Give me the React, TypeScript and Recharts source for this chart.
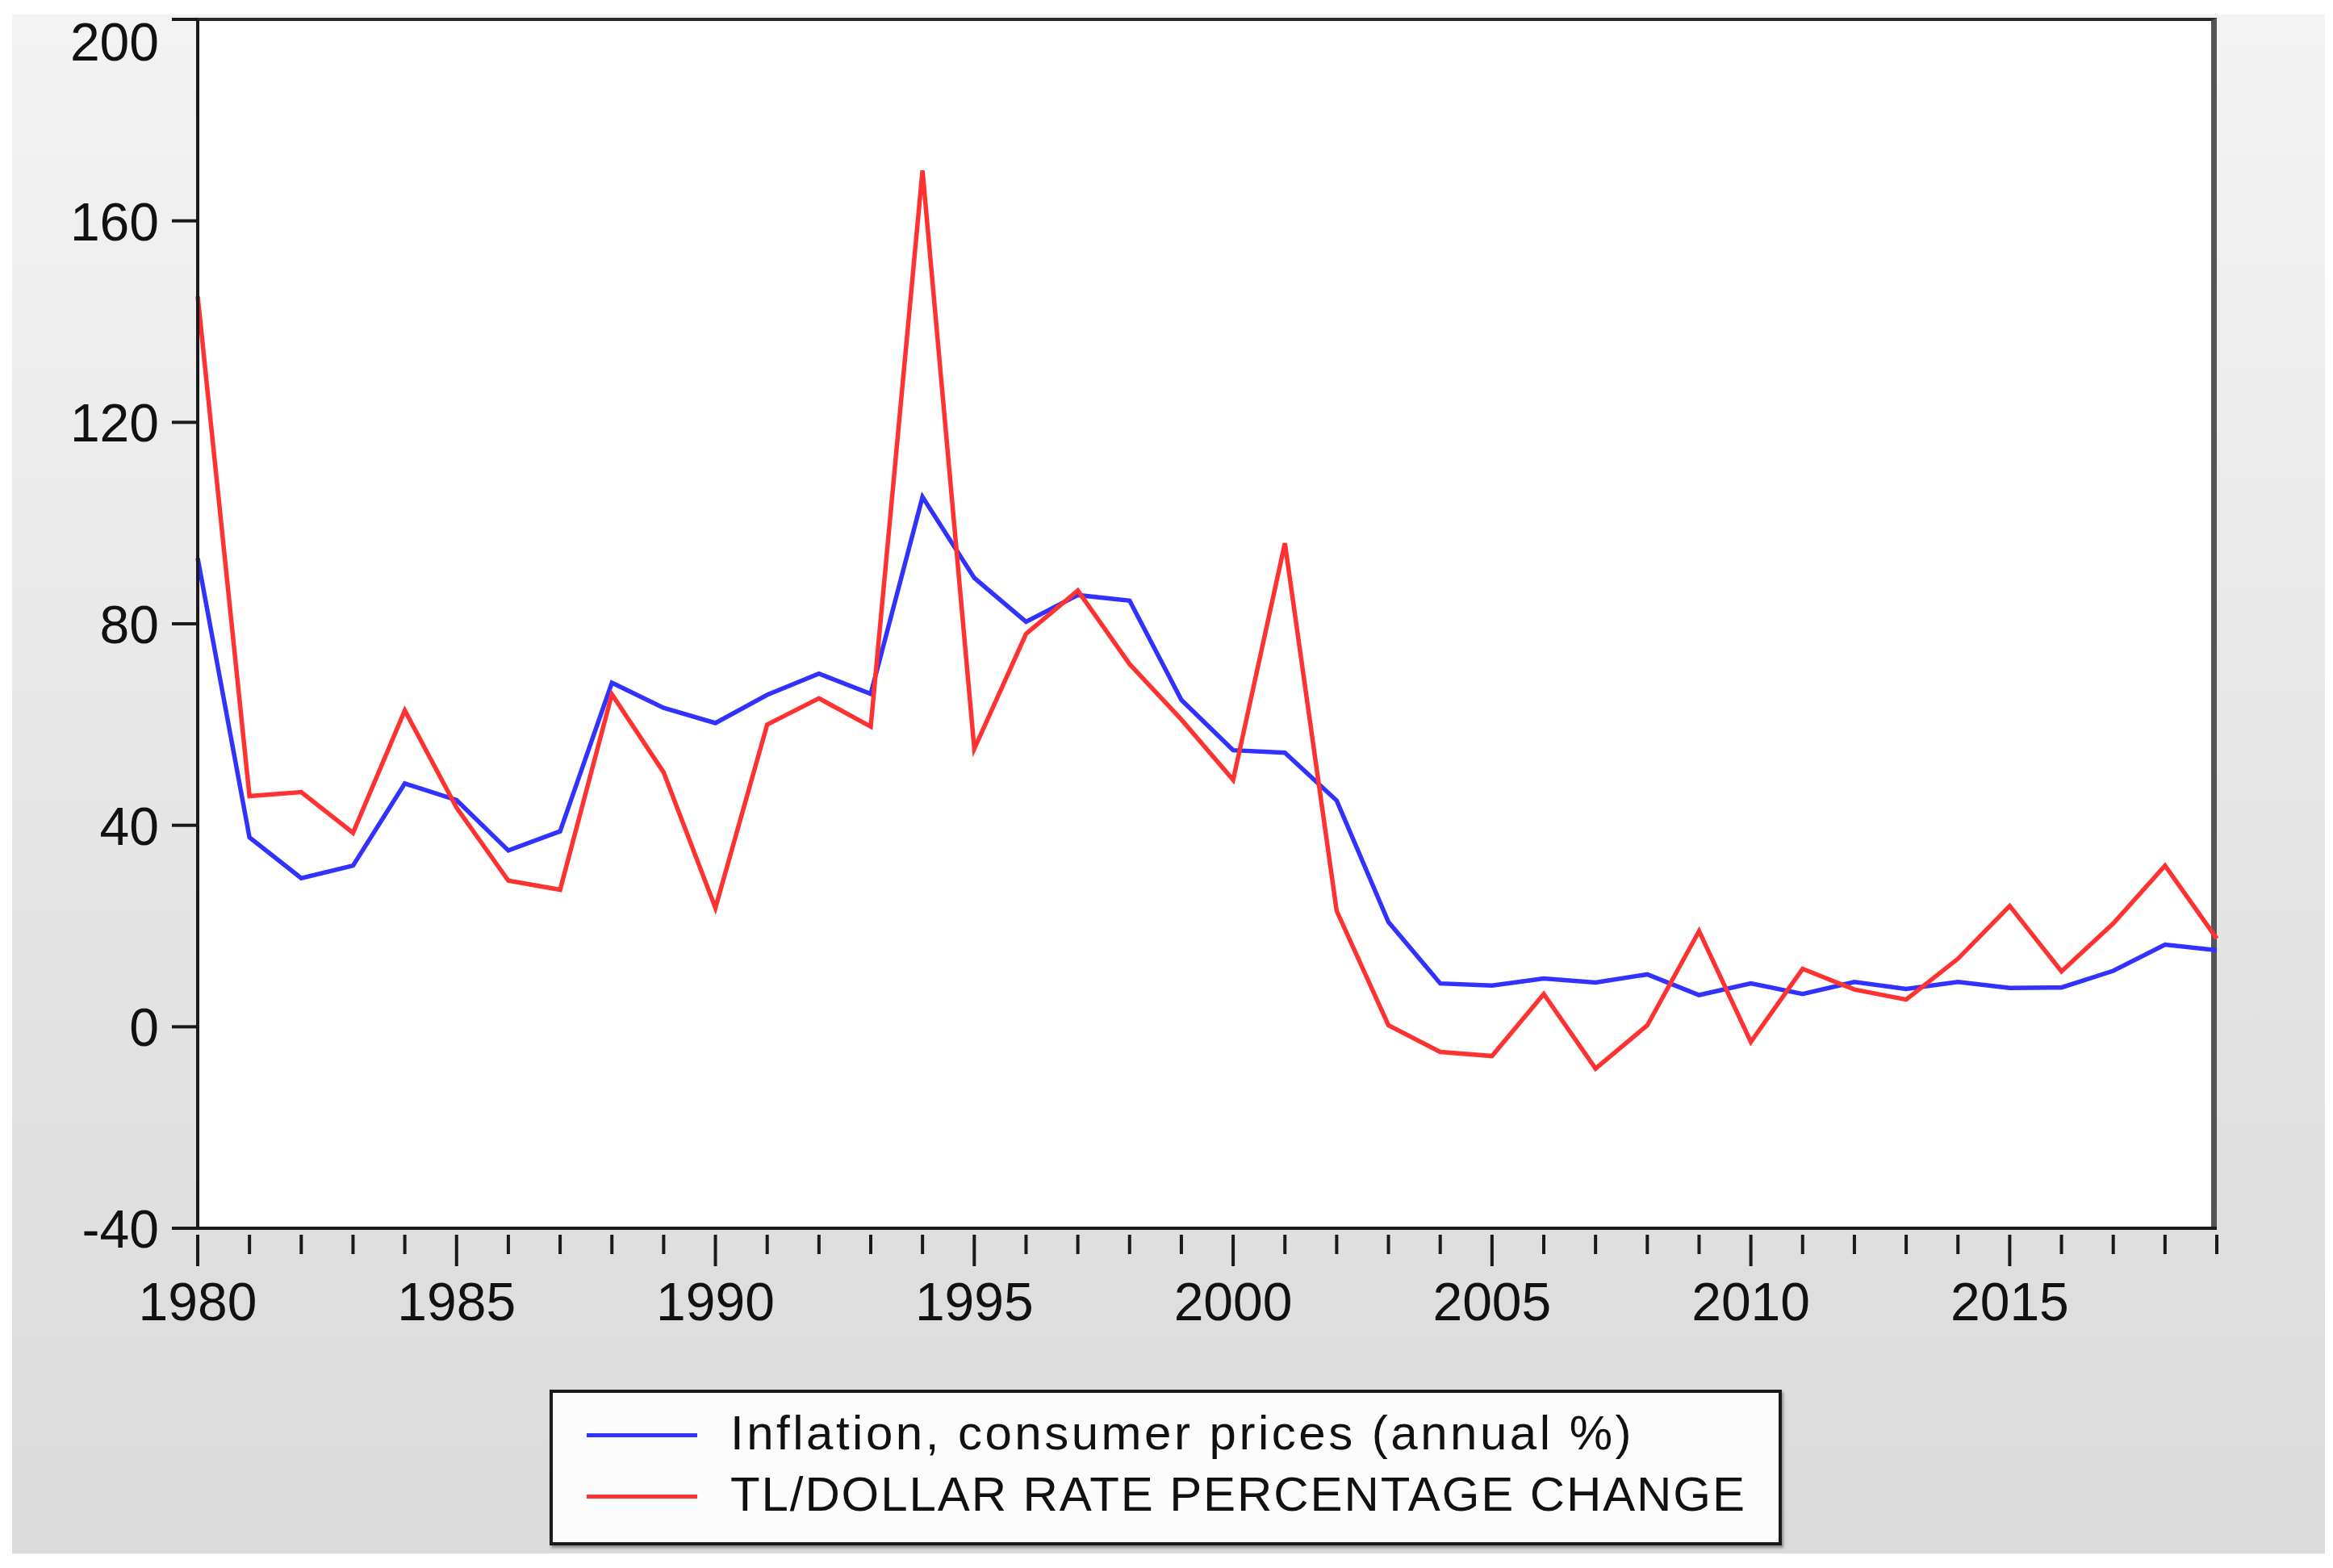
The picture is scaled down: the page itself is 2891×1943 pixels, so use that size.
import React from 'react';
import { LineChart, Line, XAxis, YAxis } from 'recharts';

const years = [
    1980, 1981, 1982, 1983, 1984, 1985, 1986, 1987, 1988, 1989,
    1990, 1991, 1992, 1993, 1994, 1995, 1996, 1997, 1998, 1999,
    2000, 2001, 2002, 2003, 2004, 2005, 2006, 2007, 2008, 2009,
    2010, 2011, 2012, 2013, 2014, 2015, 2016, 2017, 2018, 2019,
];

const inflation = [
    93, 37.6, 29.5, 32, 48.3, 45, 35, 38.8, 68.3, 63.3,
    60.3, 65.9, 70.1, 66.1, 105.2, 89.1, 80.4, 85.7, 84.6, 64.9,
    54.9, 54.4, 44.9, 20.8, 8.6, 8.2, 9.6, 8.8, 10.4, 6.3,
    8.6, 6.5, 8.9, 7.5, 8.9, 7.7, 7.8, 11.1, 16.3, 15.2,
];

const tlDollar = [
    145, 45.8, 46.6, 38.5, 62.8, 43.5, 29, 27.2, 66, 50.5,
    23.6, 60, 65.2, 59.6, 170, 55.2, 78, 86.6, 72, 61,
    49, 96, 23, 0.3, -5, -5.8, 6.5, -8.3, 0.3, 19,
    -3, 11.5, 7.4, 5.4, 13.5, 24, 11, 20.5, 32, 17.5,
];

const yTicks = [-40, 0, 40, 80, 120, 160, 200];

const series = [
    { key: 'inflation', name: 'Inflation, consumer prices (annual %)', color: '#3232ff' },
    { key: 'tlDollar', name: 'TL/DOLLAR RATE PERCENTAGE CHANGE', color: '#ff3232' },
];

const data = years.map((year, i) => ({
    year,
    inflation: inflation[i],
    tlDollar: tlDollar[i],
}));

const FONT = '"Liberation Sans", Arial, sans-serif';
const W = 2891;
const H = 1943;

// year ticks: long ones every 5 years with a label, short ones in between
function YearTick(props: any) {
    const { x, y, payload } = props;
    const major = payload.value % 5 === 0;
    return (
        <g>
            <line x1={x} y1={y} x2={x} y2={y + (major ? 39 : 24)} stroke="#1a1a1a" strokeWidth={4} />
            {major && (
                <text x={x} y={y + 106} textAnchor="middle" fontSize={66} fill="#111" fontFamily={FONT}>
                    {payload.value}
                </text>
            )}
        </g>
    );
}

// value ticks; the top label sits under its tick so it stays inside
function ValueTick(props: any) {
    const { x, y, payload } = props;
    const top = payload.value === yTicks[yTicks.length - 1];
    return (
        <text
            x={x}
            y={y + (top ? 51 : 24)}
            textAnchor="end"
            fontSize={66}
            fill="#111"
            fontFamily={FONT}
        >
            {payload.value}
        </text>
    );
}

function LegendBox() {
    return (
        <div
            style={{
                position: 'absolute',
                left: 681,
                top: 1722,
                width: 1519,
                height: 185,
                background: '#fcfcfc',
                border: '4px solid #1a1a1a',
                boxShadow: '2px 3px 3px rgba(0,0,0,0.35)',
                fontFamily: FONT,
                fontSize: 60,
                color: '#111',
            }}
        >
            {series.map((s, i) => (
                <div
                    key={s.key}
                    style={{
                        position: 'absolute',
                        left: 42,
                        top: i === 0 ? 13 : 89,
                        display: 'flex',
                        alignItems: 'center',
                        height: 72,
                        whiteSpace: 'nowrap',
                        letterSpacing: i === 0 ? 3.5 : 1.9,
                    }}
                >
                    <span
                        style={{
                            display: 'inline-block',
                            width: 137,
                            height: 5,
                            marginTop: 6,
                            background: s.color,
                            marginRight: 41,
                        }}
                    />
                    <span>{s.name}</span>
                </div>
            ))}
        </div>
    );
}

export default function App() {
    return (
        <div style={{ position: 'absolute', left: 0, top: 0, width: W, height: H, background: '#fff' }}>
            {/* grey backdrop */}
            <div
                style={{
                    position: 'absolute',
                    left: 15,
                    top: 18,
                    width: 2866,
                    height: 1907,
                    background: 'linear-gradient(to bottom, #f3f3f3, #dadada)',
                }}
            />
            {/* white plot area with its top and right frame */}
            <div
                style={{
                    position: 'absolute',
                    left: 245,
                    top: 22,
                    width: 2502,
                    height: 1500,
                    background: '#fff',
                    borderTop: '4px solid #2a2a2a',
                    borderRight: '7px solid #555',
                    boxSizing: 'border-box',
                }}
            />
            <div style={{ position: 'absolute', left: 0, top: 0 }}>
                <LineChart
                    width={W}
                    height={H}
                    data={data}
                    margin={{ top: 24, right: 144, left: 145, bottom: 291 }}
                >
                    <XAxis
                        dataKey="year"
                        type="number"
                        domain={[1980, 2019]}
                        ticks={years}
                        interval={0}
                        height={130}
                        axisLine={{ stroke: '#1a1a1a', strokeWidth: 4 }}
                        tickLine={false}
                        tick={<YearTick />}
                    />
                    <YAxis
                        type="number"
                        domain={[-40, 200]}
                        ticks={yTicks}
                        interval={0}
                        width={100}
                        allowDataOverflow
                        axisLine={{ stroke: '#1a1a1a', strokeWidth: 4 }}
                        tickLine={{ stroke: '#1a1a1a', strokeWidth: 4 }}
                        tickSize={32}
                        tickMargin={16}
                        tick={<ValueTick />}
                    />
                    {series.map((s) => (
                        <Line
                            key={s.key}
                            type="linear"
                            dataKey={s.key}
                            name={s.name}
                            stroke={s.color}
                            strokeWidth={5.5}
                            dot={false}
                            isAnimationActive={false}
                        />
                    ))}
                </LineChart>
            </div>
            <LegendBox />
        </div>
    );
}
